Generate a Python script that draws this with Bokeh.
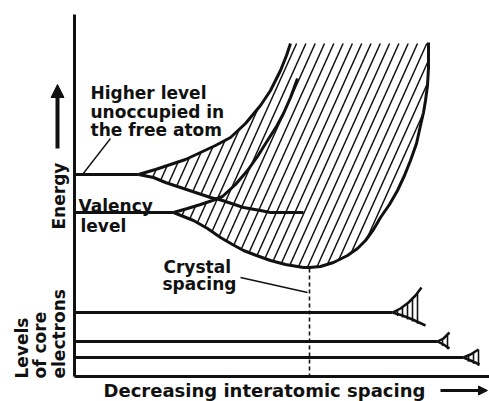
import numpy as np
from bokeh.plotting import figure
from bokeh.models import Range1d, Arrow, NormalHead
from bokeh.embed import file_html
from bokeh.resources import INLINE
from bokeh.core.properties import value

IMG_W = 489
IMG_H = 401

# higher level (unoccupied in the free atom)
hl_flat_x = [74, 138]
hl_flat_y = [174, 174]
hl_up_x = [138, 155, 170, 185, 200, 215, 230, 245, 260, 270, 280, 286, 290]
hl_up_y = [174, 169, 164, 159, 152, 145, 137, 123, 105, 90, 70, 55, 43]
hl_lo_x = [138, 153, 165, 180, 195, 210, 222, 243, 260, 270, 303]
hl_lo_y = [174, 177, 182, 187, 192, 197, 200, 207, 210, 212, 212]

# valency level
v_flat_x = [74, 173]
v_flat_y = [212, 212]
v_up_x = [173, 187, 200, 212, 222, 235, 247, 257, 267, 276, 283, 290, 297]
v_up_y = [212, 208, 204, 200, 196, 184, 170, 156, 140, 126, 113, 97, 78]
v_lo_x = [173, 183, 193, 207, 220, 232, 243, 256, 270, 285, 303, 309, 320, 333, 347,
          357, 365, 373, 380, 389, 397, 404, 410, 416, 420, 423, 425, 427, 428, 428]
v_lo_y = [212, 216, 220, 228, 237, 244, 250, 255, 260, 264, 267, 267, 266, 262, 255,
          248, 240, 229, 217, 204, 190, 175, 160, 143, 125, 112, 100, 85, 67, 42]
band_top = 43

crystal_x = 309
crystal_y_min = 268

# levels of core electrons: level y, end of level, fan tip
core_y = [312, 341, 357]
core_end = [392, 437, 463]
core_fan_up_x = [[392, 400, 408, 415, 421], [437, 443, 449], [463, 470, 478]]
core_fan_up_y = [[312, 308, 302, 295, 287], [341, 338, 332], [357, 354, 349]]
core_fan_lo_x = [[392, 402, 412, 425], [437, 443, 449], [463, 470, 479]]
core_fan_lo_y = [[312, 315, 319, 325], [341, 344, 348], [357, 360, 364]]

axis_x0 = 74
axis_top = 14
axis_y0 = 376
axis_right = 489

labels = ["Higher level", "unoccupied in", "the free atom", "Valency", "level",
          "Crystal", "spacing"]
labels_x = [90, 90, 90, 78, 80, 163, 162]
labels_y = [92, 111, 129, 205, 225, 266, 283]

ylabels = ["Energy", "Levels", "of core", "electrons"]
ylabels_x = [58, 21, 39, 58]
ylabels_y = [229, 378, 378, 378]

xlabel = "Decreasing interatomic spacing"
xlabel_x = 103
xlabel_y = 390


def Y(v):
    return IMG_H - np.asarray(v, dtype=float)


# ---------------- figure ----------------
p = figure(width=IMG_W, height=IMG_H, x_range=Range1d(0, IMG_W),
           y_range=Range1d(0, IMG_H),
           output_backend="svg", toolbar_location=None, min_border=0)
p.axis.visible = False
p.grid.visible = False
p.outline_line_color = None
p.background_fill_color = "white"

INK = "#111111"

# ---------------- hatch of the bands ----------------


def inside(x, y):
    m = np.zeros_like(x, dtype=bool)
    a = (x >= hl_up_x[0]) & (x <= hl_lo_x[-1])
    top = np.maximum(np.interp(x, hl_up_x, hl_up_y), band_top)
    top = np.where(x > hl_up_x[-1], band_top, top)
    bot = np.interp(x, hl_lo_x, hl_lo_y)
    m |= a & (y >= top) & (y <= bot)
    b = (x >= v_up_x[0]) & (x <= v_lo_x[-1])
    top2 = np.where(x > v_up_x[-1], band_top, np.interp(x, v_up_x, v_up_y))
    bot2 = np.interp(x, v_lo_x[:-1], v_lo_y[:-1])
    m |= b & (y >= top2) & (y <= bot2)
    return m


slope = 0.45
step = 9.3
py = np.arange(band_top, 272, 0.25)
sx0, sy0, sx1, sy1 = [], [], [], []
for c in np.arange(hl_up_x[0] + slope * band_top, v_lo_x[-1] + slope * 272, step):
    xs = c - slope * py
    m = inside(xs, py)
    if not m.any():
        continue
    d = np.diff(np.concatenate([[0], m.astype(int), [0]]))
    starts = np.where(d == 1)[0]
    ends = np.where(d == -1)[0] - 1
    for s, e in zip(starts, ends):
        if e - s < 4:
            continue
        sx0.append(xs[s]); sy0.append(py[s]); sx1.append(xs[e]); sy1.append(py[e])
p.segment(x0=sx0, y0=Y(sy0), x1=sx1, y1=Y(sy1), line_color=INK, line_width=1.5)

# hatch ticks of the core-level fans
tx0, ty0, tx1, ty1 = [], [], [], []
for ux, uy, lxf, lyf in zip(core_fan_up_x, core_fan_up_y, core_fan_lo_x, core_fan_lo_y):
    x_end = min(ux[-1], lxf[-1])
    for xt in np.arange(ux[0] + 5, x_end + 0.1, 5.0):
        tx0.append(xt); ty0.append(np.interp(xt, ux, uy))
        tx1.append(xt); ty1.append(np.interp(xt, lxf, lyf) + 2)
p.segment(x0=tx0, y0=Y(ty0), x1=tx1, y1=Y(ty1), line_color=INK, line_width=1.6)

# ---------------- curves ----------------
LW = 3
p.line(hl_flat_x, Y(hl_flat_y), line_color=INK, line_width=LW)
p.line(hl_up_x, Y(hl_up_y), line_color=INK, line_width=LW)
p.line(hl_lo_x, Y(hl_lo_y), line_color=INK, line_width=LW)
p.line(v_flat_x, Y(v_flat_y), line_color=INK, line_width=LW)
p.line(v_up_x, Y(v_up_y), line_color=INK, line_width=LW)
p.line(v_lo_x, Y(v_lo_y), line_color=INK, line_width=LW)

for yc, xe, ux, uy, lxf, lyf in zip(core_y, core_end, core_fan_up_x, core_fan_up_y,
                                    core_fan_lo_x, core_fan_lo_y):
    p.line([axis_x0, xe], Y([yc, yc]), line_color=INK, line_width=LW)
    p.line(ux, Y(uy), line_color=INK, line_width=2.5)
    p.line(lxf, Y(lyf), line_color=INK, line_width=2.5)

# crystal spacing dashed line
p.line([crystal_x, crystal_x], Y([crystal_y_min, axis_y0]), line_color=INK,
       line_width=1.6, line_dash="4 3")

# axes
p.line([axis_x0, axis_x0], Y([axis_top, axis_y0]), line_color=INK, line_width=3)
p.line([axis_x0, axis_right], Y([axis_y0, axis_y0]), line_color=INK, line_width=3)

# leader lines
p.line([82, 110], Y([174, 138]), line_color=INK, line_width=1.4)
p.line([240, 307], Y([277, 292]), line_color=INK, line_width=1.4)

# ---------------- texts ----------------
FONT = value("DejaVu Sans")
p.text(x=labels_x, y=Y(labels_y), text=labels, text_font=FONT, text_font_style="bold",
       text_font_size="17px", text_color=INK, text_baseline="alphabetic",
       text_align="left")
p.text(x=ylabels_x, y=Y(ylabels_y), text=ylabels, text_font=FONT, text_font_style="bold",
       text_font_size="17px", text_color=INK, text_baseline="alphabetic",
       text_align="left", angle=np.pi / 2)
p.text(x=[xlabel_x], y=Y([xlabel_y]), text=[xlabel], text_font=FONT,
       text_font_style="bold", text_font_size="18px", text_color=INK,
       text_baseline="alphabetic", text_align="left")

# arrows
p.add_layout(Arrow(x_start=57, y_start=float(Y(148)), x_end=57, y_end=float(Y(84)),
                   line_width=4, line_color=INK,
                   end=NormalHead(size=13, fill_color=INK, line_color=INK)))
p.add_layout(Arrow(x_start=440, y_start=float(Y(390)), x_end=487, y_end=float(Y(390)),
                   line_width=3, line_color=INK,
                   end=NormalHead(size=9, fill_color=INK, line_color=INK)))

open("out.html", "w").write(file_html(p, INLINE))
